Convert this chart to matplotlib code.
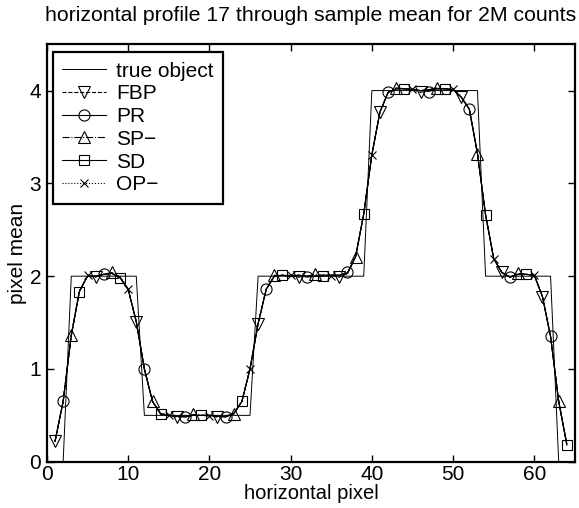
import matplotlib
matplotlib.use('Agg')
import matplotlib.pyplot as plt

plt.rcParams['font.family'] = ['Liberation Sans', 'DejaVu Sans']

# pixel index along the profile
pixels = list(range(1, 65))

true_object = [0, 0, 2, 2, 2, 2, 2, 2, 2, 2, 2,
               0.5, 0.5, 0.5, 0.5, 0.5, 0.5, 0.5, 0.5, 0.5, 0.5, 0.5, 0.5, 0.5, 0.5,
               2, 2, 2, 2, 2, 2, 2, 2, 2, 2, 2, 2, 2, 2,
               4, 4, 4, 4, 4, 4, 4, 4, 4, 4, 4, 4, 4, 4,
               2, 2, 2, 2, 2, 2, 2, 2, 2,
               0, 0]

fbp = [0.22, 0.65, 1.36, 1.84, 2.00, 1.99, 2.02, 2.03, 1.99, 1.86,
       1.51, 1.00, 0.65, 0.52, 0.50, 0.48, 0.49, 0.50, 0.50, 0.50,
       0.48, 0.49, 0.52, 0.65, 1.00, 1.49, 1.86, 2.00, 2.01, 2.00,
       1.99, 2.00, 2.00, 2.01, 2.01, 1.99, 2.03, 2.21, 2.67, 3.31,
       3.77, 3.98, 4.02, 4.02, 4.01, 3.98, 4.01, 4.02, 4.02, 4.01,
       3.93, 3.80, 3.32, 2.66, 2.19, 2.04, 1.99, 2.02, 2.02, 2.01,
       1.78, 1.35, 0.65, 0.19]
pr = [0.22, 0.65, 1.36, 1.84, 2.00, 2.00, 2.02, 2.03, 1.99, 1.86,
      1.51, 1.00, 0.65, 0.52, 0.50, 0.49, 0.48, 0.50, 0.50, 0.50,
      0.49, 0.48, 0.52, 0.65, 1.00, 1.49, 1.86, 2.00, 2.01, 2.00,
      2.01, 1.99, 2.00, 2.01, 2.01, 2.01, 2.04, 2.21, 2.67, 3.31,
      3.77, 3.98, 4.02, 4.02, 4.01, 4.00, 3.99, 4.02, 4.02, 4.01,
      3.93, 3.80, 3.32, 2.66, 2.19, 2.04, 1.99, 2.02, 2.02, 2.01,
      1.78, 1.35, 0.65, 0.19]
sp = [0.22, 0.65, 1.37, 1.84, 2.00, 2.00, 2.02, 2.04, 1.99, 1.86,
      1.51, 1.00, 0.65, 0.52, 0.50, 0.49, 0.49, 0.51, 0.50, 0.50,
      0.49, 0.49, 0.51, 0.65, 1.00, 1.49, 1.86, 2.01, 2.01, 2.00,
      2.01, 2.00, 2.02, 2.01, 2.01, 2.01, 2.03, 2.21, 2.67, 3.31,
      3.77, 3.98, 4.03, 4.02, 4.01, 4.00, 4.01, 4.03, 4.02, 4.01,
      3.93, 3.80, 3.32, 2.66, 2.19, 2.04, 1.99, 2.03, 2.02, 2.01,
      1.78, 1.35, 0.65, 0.19]
sd = [0.22, 0.65, 1.36, 1.83, 2.00, 2.00, 2.02, 2.03, 1.98, 1.86,
      1.51, 1.00, 0.65, 0.51, 0.50, 0.49, 0.49, 0.50, 0.50, 0.50,
      0.49, 0.49, 0.52, 0.65, 1.00, 1.49, 1.86, 2.00, 2.01, 2.00,
      2.01, 2.00, 2.00, 2.00, 2.01, 2.01, 2.03, 2.21, 2.67, 3.31,
      3.77, 3.98, 4.02, 4.02, 4.01, 4.00, 4.01, 4.02, 4.02, 4.01,
      3.93, 3.80, 3.32, 2.66, 2.19, 2.04, 1.99, 2.02, 2.02, 2.01,
      1.78, 1.35, 0.65, 0.18]
op = [0.22, 0.65, 1.36, 1.84, 2.01, 2.00, 2.02, 2.03, 1.99, 1.86,
      1.51, 1.00, 0.65, 0.52, 0.50, 0.49, 0.49, 0.50, 0.50, 0.49,
      0.49, 0.49, 0.52, 0.65, 1.00, 1.49, 1.86, 2.00, 2.01, 2.01,
      2.01, 2.00, 2.00, 2.01, 2.00, 2.01, 2.03, 2.21, 2.67, 3.31,
      3.77, 3.98, 4.02, 4.02, 4.02, 4.00, 4.01, 4.02, 4.02, 4.02,
      3.93, 3.80, 3.32, 2.66, 2.19, 2.04, 1.99, 2.02, 2.02, 2.01,
      1.78, 1.35, 0.65, 0.19]

fig = plt.figure(figsize=(5.79, 5.08), dpi=100)
ax = fig.add_axes([0.081, 0.091, 0.912, 0.822])

ax.plot(pixels, true_object, '-', color='k', lw=0.7, label='true object')
# markers every 5th pixel, staggered per method
ax.plot(pixels, fbp, '--', color='k', lw=0.8, marker='v', ms=8, mfc='none',
        mew=0.8, markevery=(0, 5), label='FBP')
ax.plot(pixels, pr, '-', color='k', lw=0.8, marker='o', ms=8, mfc='none',
        mew=0.8, markevery=(1, 5), label='PR')
ax.plot(pixels, sp, '-.', color='k', lw=0.8, marker='^', ms=8, mfc='none',
        mew=0.8, markevery=(2, 5), label='SP\u2212')
ax.plot(pixels, sd, '-', color='k', lw=0.8, marker='s', ms=6.5, mfc='none',
        mew=0.8, markevery=(3, 5), label='SD')
ax.plot(pixels, op, ':', color='k', lw=0.8, marker='x', ms=6, mfc='none',
        mew=0.8, markevery=(4, 5), label='OP\u2212')

ax.set_xlim(0, 65)
ax.set_ylim(0, 4.5)
ax.set_xticks([0, 10, 20, 30, 40, 50, 60])
ax.set_yticks([0, 1, 2, 3, 4])
ax.tick_params(direction='in', length=5, width=1, top=True, right=True,
               labelsize=15)
ax.tick_params(axis='x', pad=2)
ax.tick_params(axis='y', pad=4)
for s in ax.spines.values():
    s.set_linewidth(1.6)

ax.set_xlabel('horizontal pixel', fontsize=14.5, labelpad=0)
ax.set_ylabel('pixel mean', fontsize=15, labelpad=2)
ax.set_title('horizontal profile 17 through sample mean for 2M counts',
             fontsize=15.3, pad=17)

leg = ax.legend(loc='upper left', bbox_to_anchor=(0.011, 0.981),
                borderaxespad=0, fontsize=15, numpoints=1, handlelength=2.1,
                handletextpad=0.5, labelspacing=0.18, borderpad=0.45,
                fancybox=False, framealpha=1, edgecolor='k')
leg.get_frame().set_linewidth(1.6)

fig.savefig('out.png', dpi=100)
